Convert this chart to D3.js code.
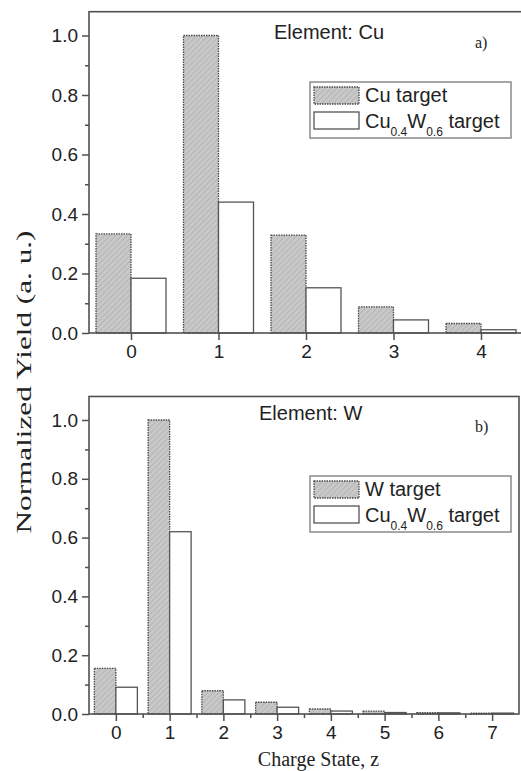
<!DOCTYPE html>
<html><head><meta charset="utf-8">
<script src="https://cdn.jsdelivr.net/npm/d3@7"></script>
<style>
html,body{margin:0;padding:0;background:#fff;overflow:hidden;}
svg{display:block;}
</style></head>
<body>
<svg id="c" width="521" height="771"></svg>
<script>
// ---- data ----
const chargeA = [0, 1, 2, 3, 4];
const cuTarget = [0.333, 1.0, 0.329, 0.088, 0.032];
const cuwTargetA = [0.184, 0.44, 0.152, 0.044, 0.011];

const chargeB = [0, 1, 2, 3, 4, 5, 6, 7];
const wTarget = [0.155, 1.0, 0.079, 0.040, 0.017, 0.010, 0.005, 0.003];
const cuwTargetB = [0.091, 0.62, 0.048, 0.023, 0.010, 0.005, 0.004, 0.003];

const yTicks = [0, 0.2, 0.4, 0.6, 0.8, 1.0];
const yMinor = [0.1, 0.3, 0.5, 0.7, 0.9];

const svg = d3.select("#c");
const defs = svg.append("defs");
const pat = defs.append("pattern").attr("id","hatch").attr("patternUnits","userSpaceOnUse")
  .attr("width",4).attr("height",4).attr("patternTransform","rotate(45)");
pat.append("rect").attr("width",4).attr("height",4).attr("fill","#c8c8c8");
pat.append("line").attr("x1",0).attr("y1",0).attr("x2",0).attr("y2",4).attr("stroke","#a8a8a8").attr("stroke-width",1.2);

const axisColor = "#505050";
const textColor = "#222";
const sans = "Arial, 'Liberation Sans', sans-serif";
const serif = "'Times New Roman', 'Liberation Serif', serif";

function panel(opts){
  const g = svg.append("g");
  const x = d3.scaleLinear().domain(opts.xDomain).range([opts.left, opts.right]);
  const y = d3.scaleLinear().domain([0, 1.08]).range([opts.base, opts.base - 1.08*opts.unit]);
  const bw = x(0.4) - x(0);

  // bars
  g.selectAll("rect.s1").data(opts.cats).join("rect")
    .attr("x", d => x(d) - bw).attr("y", (d,i) => y(opts.s1[i]))
    .attr("width", bw).attr("height", (d,i) => y(0) - y(opts.s1[i]))
    .attr("fill","url(#hatch)").attr("stroke","#4a4a4a").attr("stroke-width",1.3).attr("stroke-dasharray","1.5,1");
  g.selectAll("rect.s2").data(opts.cats).join("rect")
    .attr("x", d => x(d)).attr("y", (d,i) => y(opts.s2[i]))
    .attr("width", bw).attr("height", (d,i) => y(0) - y(opts.s2[i]))
    .attr("fill","#fff").attr("stroke","#555").attr("stroke-width",1.3);

  // frame
  const top = y(1.08);
  g.append("rect").attr("x", opts.left).attr("y", top).attr("width", opts.right - opts.left)
    .attr("height", y(0) - top).attr("fill","none").attr("stroke",axisColor).attr("stroke-width",1.6);

  // y axis
  const ya = d3.axisLeft(y).tickValues(yTicks).tickFormat(d3.format(".1f")).tickSize(7).tickPadding(4);
  const yg = g.append("g").attr("transform",`translate(${opts.left},0)`).call(ya);
  yg.select(".domain").remove();
  yg.selectAll("line").attr("stroke",axisColor).attr("stroke-width",1.5);
  yg.selectAll("text").attr("font-family",sans).attr("font-size",19).attr("fill",textColor);
  const ym = d3.axisLeft(y).tickValues(yMinor).tickFormat("").tickSize(4);
  const ymg = g.append("g").attr("transform",`translate(${opts.left},0)`).call(ym);
  ymg.select(".domain").remove();
  ymg.selectAll("line").attr("stroke",axisColor).attr("stroke-width",1.5);

  // x axis
  const xa = d3.axisBottom(x).tickValues(opts.cats).tickFormat(d3.format("d")).tickSize(7).tickPadding(5);
  const xg = g.append("g").attr("transform",`translate(0,${opts.base})`).call(xa);
  xg.select(".domain").remove();
  xg.selectAll("line").attr("stroke",axisColor).attr("stroke-width",1.5);
  xg.selectAll("text").attr("font-family",sans).attr("font-size",19).attr("fill",textColor);
  if (opts.xMinor) {
    const xm = d3.axisBottom(x).tickValues(opts.xMinor).tickFormat("").tickSize(4);
    const xmg = g.append("g").attr("transform",`translate(0,${opts.base})`).call(xm);
    xmg.select(".domain").remove();
    xmg.selectAll("line").attr("stroke",axisColor).attr("stroke-width",1.5);
  }

  // titles
  g.append("text").attr("x", opts.titleX).attr("y", opts.titleY).attr("font-family",sans)
    .attr("font-size",20).attr("fill",textColor).text(opts.title);
  g.append("text").attr("x", 475).attr("y", opts.tagY).attr("font-family",serif)
    .attr("font-size",16).attr("fill",textColor).text(opts.tag);

  // legend
  const L = opts.legend;
  g.append("rect").attr("x",310).attr("y",L.y).attr("width",201).attr("height",L.h)
    .attr("fill","#fff").attr("stroke","#8a8a8a").attr("stroke-width",1.5);
  g.append("rect").attr("x",314).attr("y",L.y+5).attr("width",45).attr("height",17)
    .attr("fill","url(#hatch)").attr("stroke","#4a4a4a").attr("stroke-width",1.3).attr("stroke-dasharray","1.5,1");
  g.append("rect").attr("x",314).attr("y",L.y+30).attr("width",45).attr("height",17)
    .attr("fill","#fff").attr("stroke","#555").attr("stroke-width",1.3);
  g.append("text").attr("x",365).attr("y",L.y+20).attr("font-family",sans).attr("font-size",20)
    .attr("fill",textColor).text(L.label1);
  const t2 = g.append("text").attr("x",365).attr("y",L.y+45.5).attr("font-family",sans).attr("font-size",20).attr("fill",textColor);
  t2.append("tspan").text("Cu");
  t2.append("tspan").attr("font-size",12).attr("dy",8).text("0.4");
  t2.append("tspan").attr("dy",-8).text("W");
  t2.append("tspan").attr("font-size",12).attr("dy",8).text("0.6");
  t2.append("tspan").attr("dy",-8).text(" target");
}

panel({
  cats: chargeA, s1: cuTarget, s2: cuwTargetA,
  xDomain: [-0.48, 4.52], left: 89, right: 526.5, base: 333, unit: 297.5,
  title: "Element: Cu", titleX: 274, titleY: 39, tag: "a)", tagY: 48,
  legend: { y: 82, h: 56, label1: "Cu target" }
});

panel({
  cats: chargeB, s1: wTarget, s2: cuwTargetB,
  xDomain: [-0.5, 7.5], left: 89, right: 519, base: 714, unit: 294,
  xMinor: [0.5, 1.5, 2.5, 3.5, 4.5, 5.5, 6.5],
  title: "Element: W", titleX: 259, titleY: 420, tag: "b)", tagY: 432,
  legend: { y: 476, h: 56, label1: "W target" }
});

// shared axis titles
svg.append("text").attr("transform","translate(31,382) rotate(-90)").attr("text-anchor","middle")
  .attr("font-family",serif).attr("font-size",21).attr("fill",textColor)
  .attr("textLength",303).attr("lengthAdjust","spacingAndGlyphs").text("Normalized Yield (a. u.)");
svg.append("text").attr("x",318.5).attr("y",766).attr("text-anchor","middle")
  .attr("font-family",serif).attr("font-size",20).attr("fill",textColor).text("Charge State, z");
</script>
</body></html>
